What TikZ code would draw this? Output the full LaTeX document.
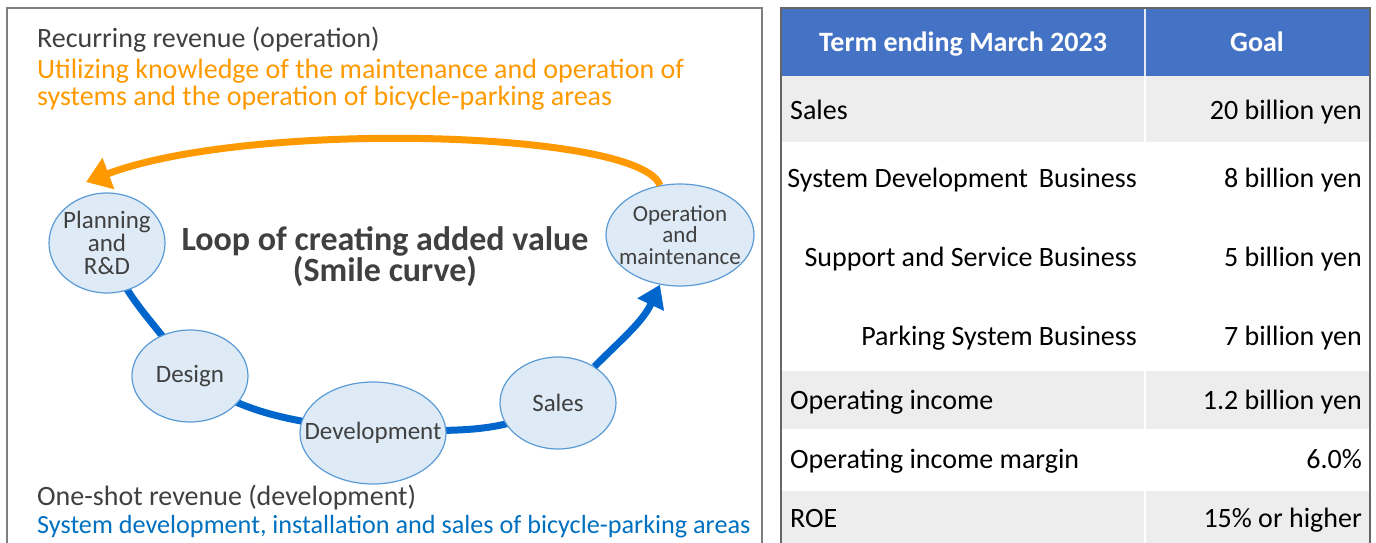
\documentclass[tikz,border=0pt]{standalone}
\usepackage{fontspec}
\setmainfont{Carlito}
\usetikzlibrary{shapes.geometric,arrows.meta,backgrounds}
\definecolor{txtgray}{HTML}{404040}
\definecolor{orng}{HTML}{FF9900}
\definecolor{curveblue}{HTML}{0066CC}
\definecolor{txtblue}{HTML}{0070C0}
\definecolor{ellfill}{HTML}{DEEAF6}
\definecolor{elldraw}{HTML}{5B9BD5}
\definecolor{hdrblue}{HTML}{4472C4}
\definecolor{rowgray}{HTML}{EDEDED}
\definecolor{frame}{HTML}{7F7F7F}
\tikzset{
  bubble/.style={ellipse, fill=ellfill, draw=elldraw, line width=1.2pt, inner sep=0pt},
  bubtxt/.style={align=center, text=txtgray, inner sep=0pt, font=\fontsize{25}{22}\selectfont},
  lefttxt/.style={anchor=base west, inner sep=0pt, font=\fontsize{28}{28}\selectfont},
  celltxt/.style={inner sep=0pt, text=black, font=\fontsize{28}{28}\selectfont},
  hdrtxt/.style={inner sep=0pt, text=white, font=\bfseries\fontsize{28}{28}\selectfont},
  smile/.style={draw=curveblue, line width=7pt},
  loopback/.style={draw=orng, line width=7pt, -{Triangle[length=24pt,width=32pt]}}
}
\begin{document}
\begin{tikzpicture}[x=1pt,y=-1pt]
\useasboundingbox (0,0) rectangle (1376,543);
% left panel frame
\draw[frame, line width=1.5pt] (7,560) -- (7,8) -- (762,8) -- (762,560);
% texts
\node[lefttxt, text=txtgray] (rec) at (37,48) {Recurring revenue (operation)};
\node[lefttxt, text=orng] (util1) at (37,78) {Utilizing knowledge of the maintenance and operation of};
\node[lefttxt, text=orng] (util2) at (37,106) {systems and the operation of bicycle-parking areas};
\node[lefttxt, text=txtgray] (one) at (37,505) {One-shot revenue (development)};
\node[lefttxt, text=txtblue, font=\fontsize{26.2}{28}\selectfont] (sysd) at (37,533) {System development, installation and sales of bicycle-parking areas};
\node[align=center, text=txtgray, font=\bfseries\fontsize{34}{31}\selectfont, inner sep=0pt] (loop) at (385,257) {Loop of creating added value\\(Smile curve)};
% bubbles
\node[bubble, minimum width=116pt, minimum height=100pt,
  label={[bubtxt, font=\fontsize{25}{23}\selectfont]center:Planning\\and\\R\&D}] (plan) at (107,243) {};
\node[bubble, minimum width=148pt, minimum height=102pt,
  label={[bubtxt, font=\fontsize{23}{21.5}\selectfont]center:Operation\\and\\maintenance}] (op) at (680,235) {};
\node[bubble, minimum width=116pt, minimum height=92pt,
  label={[bubtxt]center:Design}] (design) at (190,376) {};
\node[bubble, minimum width=146pt, minimum height=102pt,
  label={[bubtxt]center:Development}] (dev) at (373,433) {};
\node[bubble, minimum width=116pt, minimum height=92pt,
  label={[bubtxt]center:Sales}] (sales) at (558,403) {};
\coordinate (tip) at (86,182);
\begin{scope}[on background layer]
\draw[smile] (plan.center) to[out=-75,in=120] (design.center);
\draw[smile] (design.center) to[out=-35,in=170] (dev.center);
\draw[smile] (dev.center) to[out=5,in=-150] (sales.center);
\end{scope}
\draw[smile, -{Triangle[length=22pt,width=28pt]}] (sales.45) to[out=45,in=-115] (op.-112);
\draw[loopback] (op.112) .. controls (640,130) and (250,120) .. (tip);
% table
\fill[hdrblue] (781,8) rectangle (1370,76);
\fill[rowgray] (781,76) rectangle (1370,143);
\fill[rowgray] (781,370) rectangle (1370,430);
\fill[rowgray] (781,490) rectangle (1370,560);
\draw[white, line width=2pt] (781,143) -- (1370,143) (781,370) -- (1370,370) (781,430) -- (1370,430) (781,490) -- (1370,490);
\draw[white, line width=2pt] (1145,76) -- (1145,143) (1145,370) -- (1145,430) (1145,490) -- (1145,543);
\draw[white!85!hdrblue, line width=2pt] (1145,8) -- (1145,76);
\draw[frame!80!black, line width=1.5pt] (781,560) -- (781,8) -- (1370,8) -- (1370,560);
\node[hdrtxt, anchor=base] (h1) at (963,52) {Term ending March 2023};
\node[hdrtxt, anchor=base] (h2) at (1257,52) {Goal};
\node[celltxt, anchor=base west] (r1) at (790,119) {Sales};
\node[celltxt, anchor=base east] (v1) at (1362,119) {20 billion yen};
\node[celltxt, anchor=base east] (r2) at (1137,187) {System Development\, Business};
\node[celltxt, anchor=base east] (v2) at (1362,187) {8 billion yen};
\node[celltxt, anchor=base east] (r3) at (1137,266) {Support and Service Business};
\node[celltxt, anchor=base east] (v3) at (1362,266) {5 billion yen};
\node[celltxt, anchor=base east] (r4) at (1137,345) {Parking System Business};
\node[celltxt, anchor=base east] (v4) at (1362,345) {7 billion yen};
\node[celltxt, anchor=base west] (r5) at (790,409) {Operating income};
\node[celltxt, anchor=base east] (v5) at (1362,409) {1.2 billion yen};
\node[celltxt, anchor=base west] (r6) at (790,468) {Operating income margin};
\node[celltxt, anchor=base east] (v6) at (1362,468) {6.0\%};
\node[celltxt, anchor=base west] (r7) at (790,527) {ROE};
\node[celltxt, anchor=base east] (v7) at (1362,527) {15\% or higher};
\end{tikzpicture}
\end{document}
